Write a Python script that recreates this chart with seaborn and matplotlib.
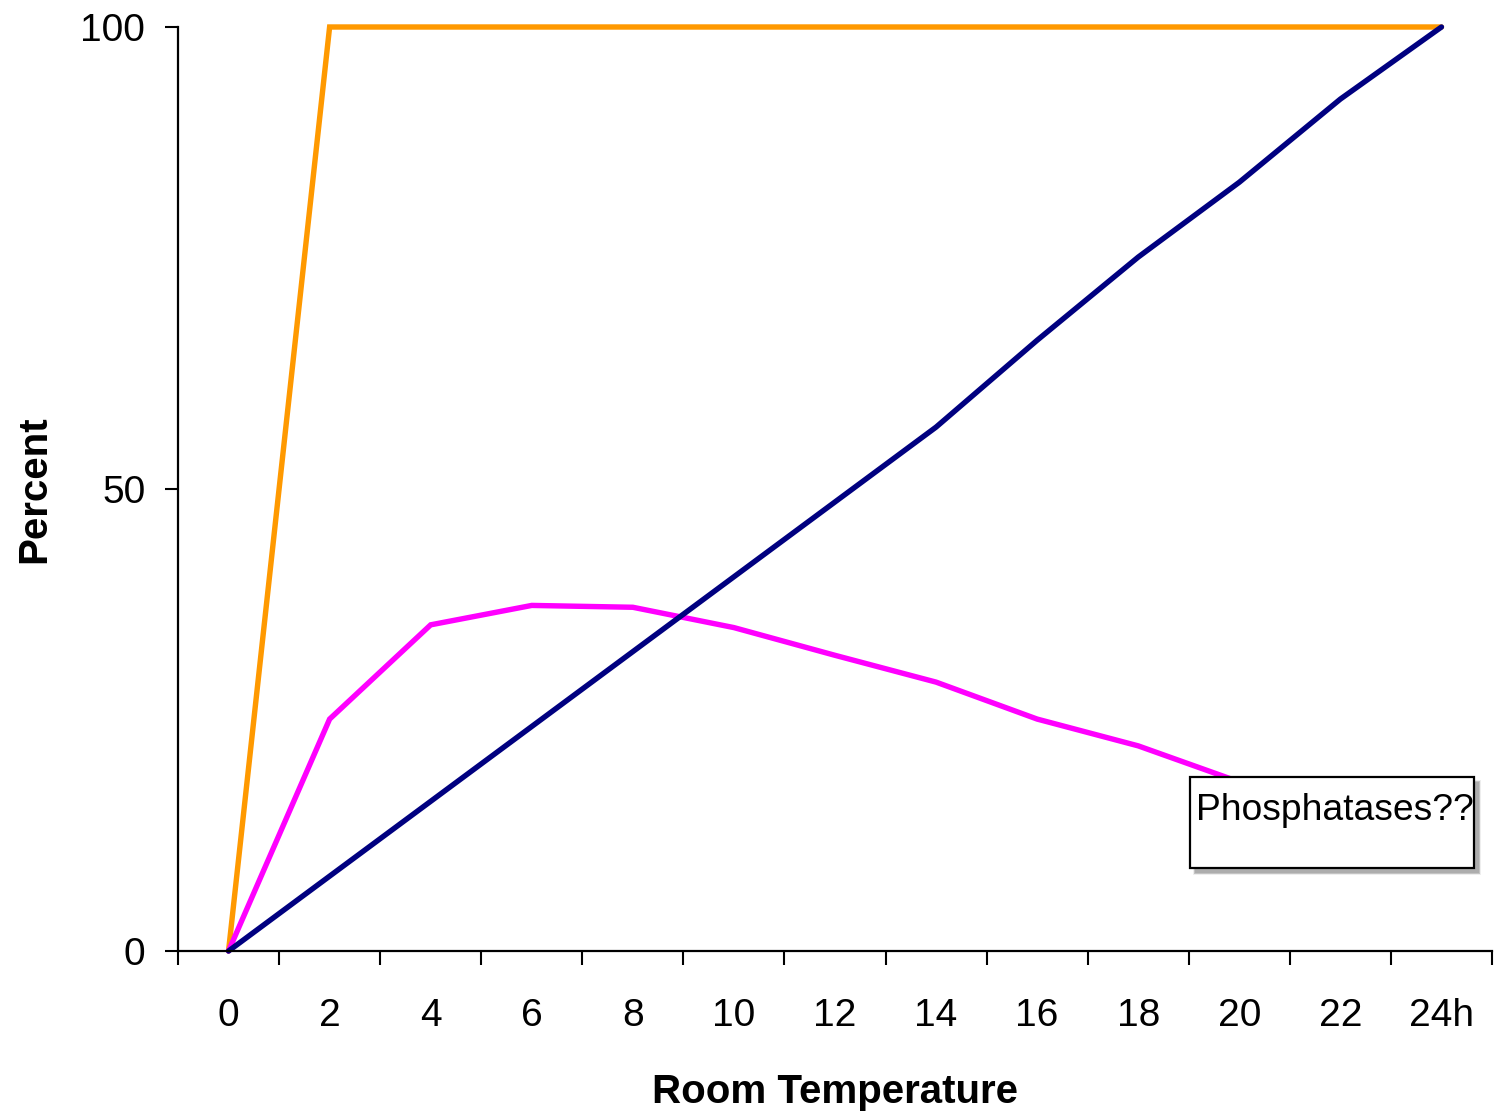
import numpy as np
import pandas as pd
import matplotlib
matplotlib.use("Agg")
import matplotlib.pyplot as plt
from matplotlib.patches import Rectangle
import seaborn as sns

categories = ["0", "2", "4", "6", "8", "10", "12", "14", "16", "18", "20", "22", "24h"]
orange_vals = [0, 100, 100, 100, 100, 100, 100, 100, 100, 100, 100, 100, 100]
magenta_vals = [0, 25.1, 35.3, 37.4, 37.2, 35.0, 32.0, 29.1, 25.1, 22.2, 18.3, np.nan, np.nan]
navy_vals = [0, 8.1, 16.2, 24.3, 32.4, 40.5, 48.6, 56.7, 66.1, 75.1, 83.2, 92.2, 100]
y_ticks = [0, 50, 100]
annotation = "Phosphatases??"

sns.set_style("white")
plt.rcParams['font.family'] = ['Liberation Sans', 'DejaVu Sans']
plt.rcParams['text.color'] = 'black'
plt.rcParams['axes.labelcolor'] = 'black'
plt.rcParams['xtick.color'] = 'black'
plt.rcParams['ytick.color'] = 'black'

fig = plt.figure(figsize=(14.98, 11.15), dpi=100)
ax = fig.add_axes([178/1498, 1 - 951/1115, (1492 - 178)/1498, (951 - 27)/1115])

xpos = np.arange(len(categories))
df = pd.DataFrame({"x": xpos, "orange": orange_vals, "magenta": magenta_vals, "navy": navy_vals})

for col, color in [("orange", "#FF9900"), ("magenta", "#FF00FF"), ("navy", "#000080")]:
    sns.lineplot(data=df, x="x", y=col, color=color, linewidth=3.9, ax=ax,
                 clip_on=False, solid_joinstyle="miter")

ax.set_xlim(-0.5, len(categories) - 0.5)
ax.set_ylim(0, 100)

# x ticks: boundaries major (marks), centers minor (labels)
ax.set_xticks(np.arange(-0.5, len(categories), 1.0))
ax.set_xticklabels([])
ax.set_xticks(xpos, minor=True)
ax.set_xticklabels(categories, minor=True)
ax.tick_params(axis="x", which="major", direction="out", length=10, width=1.5, color="black", bottom=True)
ax.tick_params(axis="x", which="minor", length=0, pad=34, labelsize=28, labelcolor="black")

ax.set_yticks(y_ticks)
ax.set_yticklabels([str(v) for v in y_ticks])
ax.tick_params(axis="y", which="major", direction="out", length=9.5, width=1.5, color="black",
               pad=14, labelsize=28, left=True, labelcolor="black")

for side in ["top", "right"]:
    ax.spines[side].set_visible(False)
for side in ["left", "bottom"]:
    ax.spines[side].set_color("black")
    ax.spines[side].set_linewidth(1.6)

ax.set_xlabel("Room Temperature", fontsize=29, fontweight="bold", color="black")
ax.set_ylabel("Percent", fontsize=29, fontweight="bold", color="black")
ax.xaxis.set_label_coords(0.5, -0.132)
ax.yaxis.set_label_coords(-0.095, 0.5)

# annotation box with shadow
bx0 = (1190 - 178) / 1314
bx1 = (1474 - 178) / 1314
by0 = (951 - 868) / 924
by1 = (951 - 777) / 924
dx = 5 / 1314
dy = 5 / 924
for k, a in enumerate([0.10, 0.14, 0.18, 0.22]):
    off = (3 - k)
    ax.add_patch(Rectangle((bx0 + dx - off * 0.7/1314, by0 - dy - off * 0.7/924),
                           bx1 - bx0 + off * 1.4/1314, by1 - by0 + off * 1.4/924,
                           transform=ax.transAxes, facecolor="#606060", edgecolor="none",
                           alpha=a, zorder=9, clip_on=False))
ax.add_patch(Rectangle((bx0, by0), bx1 - bx0, by1 - by0, transform=ax.transAxes,
                       facecolor="white", edgecolor="black", linewidth=1.6, zorder=10, clip_on=False))
ax.text((1196 - 178) / 1314, (951 - 810) / 924, annotation, transform=ax.transAxes,
        fontsize=26.8, ha="left", va="center", zorder=11, color="black")

fig.savefig("out.png", dpi=100)
